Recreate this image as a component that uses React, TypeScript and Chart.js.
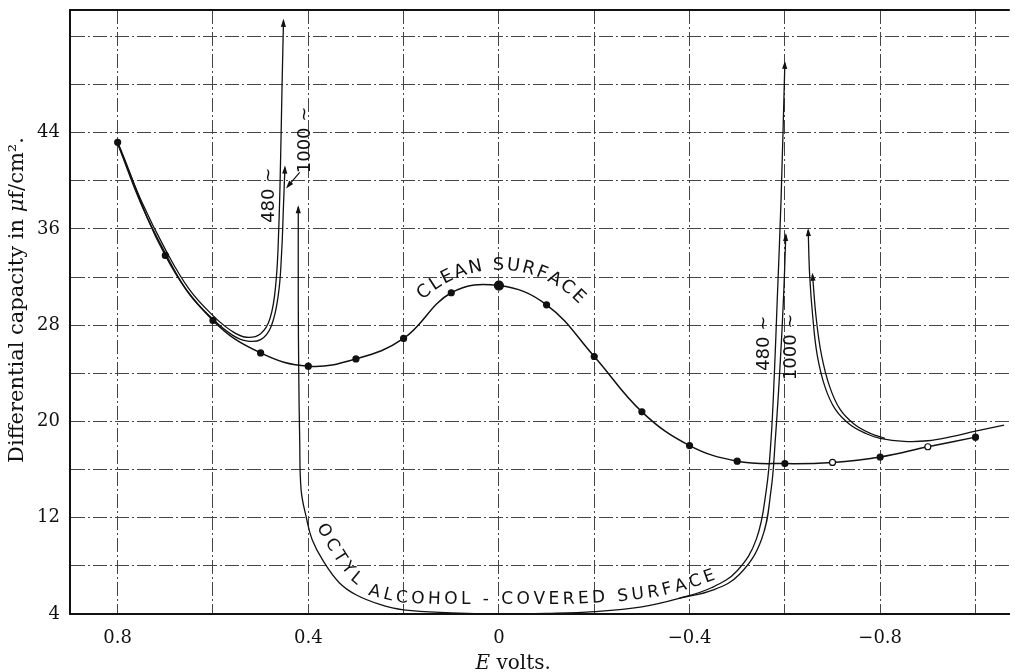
import React, { useEffect, useRef } from "react";
import { Chart, registerables } from "chart.js";

Chart.register(...registerables);

// ---------- data ----------
const X_GRID = [0.8, 0.6, 0.4, 0.2, 0, -0.2, -0.4, -0.6, -0.8, -1.0];
const X_LABELED = [0.8, 0.4, 0, -0.4, -0.8];
const Y_GRID = [4, 8, 12, 16, 20, 24, 28, 32, 36, 40, 44, 48, 52];
const Y_LABELED = [4, 12, 20, 28, 36, 44];

const CLEAN_X = [0.8, 0.7, 0.6, 0.5, 0.4, 0.3, 0.2, 0.1, 0, -0.1, -0.2, -0.3, -0.4, -0.5, -0.6, -0.7, -0.8, -0.9, -1.0];
const CLEAN_Y = [43.2, 33.8, 28.4, 25.7, 24.6, 25.2, 26.9, 30.7, 31.3, 29.7, 25.4, 20.8, 18.0, 16.7, 16.5, 16.6, 17.05, 17.9, 18.7];
const CLEAN_OPEN_X = [-0.7, -0.9];

const OCT480_LEFT_X = [0.8, 0.75, 0.7, 0.65, 0.6, 0.56, 0.53, 0.5, 0.48, 0.468, 0.462, 0.458, 0.455, 0.452];
const OCT480_LEFT_Y = [43.1, 38.3, 34.3, 31.0, 28.8, 27.5, 27.0, 27.3, 28.6, 31.5, 36, 42, 48, 53.3];
const OCT1000_LEFT_X = [0.8, 0.75, 0.7, 0.65, 0.6, 0.56, 0.53, 0.5, 0.478, 0.463, 0.456, 0.452, 0.449];
const OCT1000_LEFT_Y = [43.1, 38.0, 34.0, 30.6, 28.5, 27.2, 26.7, 26.8, 27.9, 30.5, 34, 38, 41.1];

const OCT480_MAIN_X = [0.421, 0.421, 0.42, 0.418, 0.415, 0.404, 0.392, 0.37, 0.335, 0.3, 0.25, 0.2, 0.1, 0, -0.1, -0.2, -0.3, -0.378, -0.447, -0.5, -0.54, -0.561, -0.571, -0.578, -0.584, -0.592, -0.6];
const OCT480_MAIN_Y = [37.8, 30, 24, 18.5, 14.3, 12, 10.2, 8.5, 6.6, 5.6, 4.8, 4.35, 4.1, 4.0, 4.05, 4.2, 4.6, 5.3, 6.2, 7.6, 10.2, 14.3, 18.5, 24, 30.1, 38.4, 49.8];
const OCT1000_RIGHT_X = [-0.378, -0.45, -0.505, -0.551, -0.571, -0.58, -0.589, -0.597, -0.602];
const OCT1000_RIGHT_Y = [5.3, 6.0, 7.3, 10.2, 14.3, 18.5, 24, 30.1, 35.5];

const RIGHT_A_X = [-0.649, -0.652, -0.659, -0.668, -0.684, -0.706, -0.735, -0.77, -0.8, -0.85, -0.9, -0.95, -1.0, -1.06];
const RIGHT_A_Y = [35.9, 32.2, 28.5, 25.5, 22.9, 21.0, 19.8, 19.0, 18.6, 18.35, 18.4, 18.75, 19.2, 19.7];
const RIGHT_B_X = [-0.658, -0.666, -0.677, -0.694, -0.716, -0.745, -0.78, -0.81];
const RIGHT_B_Y = [32.2, 28.5, 25.5, 22.9, 21.0, 19.8, 19.0, 18.6];

// text paths / anchors (data coordinates)
const OCTYL_TEXT = "OCTYL ALCOHOL - COVERED SURFACE";
const OCTYL_PATH_X = [0.374, 0.353, 0.328, 0.301, 0.268, 0.209, 0.104, 0.0, -0.127, -0.252, -0.336, -0.399, -0.452];
const OCTYL_PATH_Y = [11.4, 9.9, 8.32, 6.99, 5.91, 5.33, 5.16, 5.16, 5.16, 5.41, 5.83, 6.49, 7.24];
const CLEAN_TEXT = "CLEAN SURFACE";
const CLEAN_ARC_CENTER = [0, 23.45];

const FREQ_LABELS = [
  { text: "480 ~", x: 0.482, y: 38.8 },
  { text: "1000 ~", x: 0.406, y: 43.4 },
  { text: "480 ~", x: -0.556, y: 26.5 },
  { text: "1000 ~", x: -0.613, y: 26.2 },
];
const POINTER_FROM = [0.418, 40.7];
const POINTER_TO = [0.444, 39.5];

const mk = (xs: number[], ys: number[]) => xs.map((x, i) => ({ x, y: ys[i] }));

const SERIF = '"DejaVu Serif", serif';
const SANS = '"DejaVu Sans", sans-serif';

function drawHead(ctx: CanvasRenderingContext2D, from: any, to: any) {
  const a = Math.atan2(to.y - from.y, to.x - from.x);
  const len = 8, hw = 2.6;
  const tx = to.x + Math.cos(a) * 2, ty = to.y + Math.sin(a) * 2;
  const bx = tx - Math.cos(a) * len, by = ty - Math.sin(a) * len;
  ctx.beginPath();
  ctx.moveTo(tx, ty);
  ctx.lineTo(bx - Math.sin(a) * hw, by + Math.cos(a) * hw);
  ctx.lineTo(bx + Math.sin(a) * hw, by - Math.cos(a) * hw);
  ctx.closePath();
  ctx.fill();
}

function textOnPath(ctx: CanvasRenderingContext2D, text: string, pts: { x: number; y: number }[], font: string) {
  ctx.save();
  ctx.font = font;
  ctx.fillStyle = "#111";
  ctx.textAlign = "center";
  ctx.textBaseline = "middle";
  const cum = [0];
  for (let i = 1; i < pts.length; i++) {
    cum.push(cum[i - 1] + Math.hypot(pts[i].x - pts[i - 1].x, pts[i].y - pts[i - 1].y));
  }
  const L = cum[cum.length - 1];
  const chars = [...text];
  const widths = chars.map((c) => ctx.measureText(c).width);
  const total = widths.reduce((a, b) => a + b, 0);
  const extra = (L - total) / (chars.length - 1);
  let s = 0;
  chars.forEach((c, i) => {
    const mid = s + widths[i] / 2;
    s += widths[i] + extra;
    let k = 1;
    while (k < cum.length - 1 && cum[k] < mid) k++;
    const seg = cum[k] - cum[k - 1] || 1;
    const t = (mid - cum[k - 1]) / seg;
    const p0 = pts[k - 1], p1 = pts[k];
    const x = p0.x + (p1.x - p0.x) * t;
    const y = p0.y + (p1.y - p0.y) * t;
    const ang = Math.atan2(p1.y - p0.y, p1.x - p0.x);
    ctx.save();
    ctx.translate(x, y);
    ctx.rotate(ang);
    ctx.fillText(c, 0, 0);
    ctx.restore();
  });
  ctx.restore();
}

const annotationPlugin = {
  id: "annotations",
  afterDatasetsDraw(chart: any) {
    const { ctx, scales, chartArea } = chart;
    const xs = scales.x, ys = scales.y;
    const px = (v: number) => xs.getPixelForValue(v);
    const py = (v: number) => ys.getPixelForValue(v);
    ctx.save();
    ctx.fillStyle = "#111";
    ctx.strokeStyle = "#111";
    // arrowheads
    chart.data.datasets.forEach((ds: any, i: number) => {
      const pts = chart.getDatasetMeta(i).data;
      if (ds.arrowEnd) drawHead(ctx, pts[pts.length - 2], pts[pts.length - 1]);
      if (ds.arrowStart) drawHead(ctx, pts[1], pts[0]);
    });
    // pointer arrow for 1000 label
    const f = { x: px(POINTER_FROM[0]), y: py(POINTER_FROM[1]) };
    const t = { x: px(POINTER_TO[0]), y: py(POINTER_TO[1]) };
    ctx.lineWidth = 1.2;
    ctx.beginPath();
    ctx.moveTo(f.x, f.y);
    ctx.lineTo(t.x, t.y);
    ctx.stroke();
    drawHead(ctx, f, t);

    // frequency labels (rotated)
    ctx.font = `18px ${SANS}`;
    ctx.textAlign = "center";
    ctx.textBaseline = "middle";
    FREQ_LABELS.forEach((l) => {
      ctx.save();
      ctx.translate(px(l.x), py(l.y));
      ctx.rotate(-Math.PI / 2);
      ctx.fillText(l.text, 0, 0);
      ctx.restore();
    });

    // curved texts
    const octPts = OCTYL_PATH_X.map((x, i) => ({ x: px(x), y: py(OCTYL_PATH_Y[i]) }));
    textOnPath(ctx, OCTYL_TEXT, octPts, `17px ${SANS}`);

    const cx = px(CLEAN_ARC_CENTER[0]), cy = py(CLEAN_ARC_CENTER[1]);
    const r = 115;
    const arc: { x: number; y: number }[] = [];
    for (let a = -43.5; a <= 47.01; a += 1) {
      const rad = (a * Math.PI) / 180;
      arc.push({ x: cx + r * Math.sin(rad), y: cy - r * Math.cos(rad) });
    }
    textOnPath(ctx, CLEAN_TEXT, arc, `18px ${SANS}`);

    // axis titles
    ctx.fillStyle = "#111";
    ctx.textBaseline = "middle";
    ctx.textAlign = "left";
    const xt1 = "E", xt2 = " volts.";
    ctx.font = `italic 20px ${SERIF}`;
    const w1 = ctx.measureText(xt1).width;
    ctx.font = `20px ${SERIF}`;
    const w2 = ctx.measureText(xt2).width;
    const xstart = px(-0.03) - (w1 + w2) / 2;
    const ty = chartArea.bottom + 50;
    ctx.font = `italic 20px ${SERIF}`;
    ctx.fillText(xt1, xstart, ty);
    ctx.font = `20px ${SERIF}`;
    ctx.fillText(xt2, xstart + w1, ty);

    const parts = [
      { t: "Differential capacity in ", f: `21px ${SERIF}` },
      { t: "\u03bc", f: `italic 21px ${SERIF}` },
      { t: "f/cm\u00b2.", f: `21px ${SERIF}` },
    ];
    let tw = 0;
    parts.forEach((p) => { ctx.font = p.f; tw += ctx.measureText(p.t).width; });
    ctx.save();
    ctx.translate(18, (chartArea.top + chartArea.bottom) / 2 - 12);
    ctx.rotate(-Math.PI / 2);
    let xx = -tw / 2;
    parts.forEach((p) => { ctx.font = p.f; ctx.fillText(p.t, xx, 0); xx += ctx.measureText(p.t).width; });
    ctx.restore();
    ctx.restore();
  },
};

const GRID_DASH = [14, 3, 2, 3];
const GRID_COLOR = "#454545";

export default function App() {
  const ref = useRef<HTMLCanvasElement>(null);
  useEffect(() => {
    const lineDs = (xs: number[], ys: number[], extra: any = {}) => ({
      data: mk(xs, ys),
      borderColor: "#111",
      borderWidth: 1.3,
      pointRadius: 0,
      tension: 0.4,
      fill: false,
      ...extra,
    });
    const chart = new Chart(ref.current!, {
      type: "line",
      data: {
        datasets: [
          lineDs(CLEAN_X, CLEAN_Y, {
            borderWidth: 1.5,
            pointRadius: (c: any) => (c.raw && c.raw.x === 0 ? 4.5 : 3),
            pointBackgroundColor: (c: any) => (c.raw && CLEAN_OPEN_X.includes(c.raw.x) ? "#fff" : "#111"),
            pointBorderColor: "#111",
            pointBorderWidth: 1.2,
          }),
          lineDs(OCT480_LEFT_X, OCT480_LEFT_Y, { arrowEnd: true }),
          lineDs(OCT1000_LEFT_X, OCT1000_LEFT_Y, { arrowEnd: true }),
          lineDs(OCT480_MAIN_X, OCT480_MAIN_Y, { arrowEnd: true, arrowStart: true }),
          lineDs(OCT1000_RIGHT_X, OCT1000_RIGHT_Y, { arrowEnd: true }),
          lineDs(RIGHT_A_X, RIGHT_A_Y, { arrowStart: true }),
          lineDs(RIGHT_B_X, RIGHT_B_Y, { arrowStart: true }),
        ],
      },
      options: {
        animation: false,
        responsive: false,
        devicePixelRatio: 1,
        layout: { padding: { top: 10, right: 0, left: 0, bottom: 0 } },
        plugins: { legend: { display: false }, tooltip: { enabled: false } },
        scales: {
          x: {
            type: "linear",
            reverse: true,
            min: -1.072,
            max: 0.9,
            afterBuildTicks: (s: any) => { s.ticks = X_GRID.map((v) => ({ value: v })); },
            afterFit: (s: any) => { s.height = 58; s.paddingLeft = 0; s.paddingRight = 0; },
            ticks: {
              autoSkip: false,
              maxRotation: 0,
              padding: 15,
              color: "#111",
              font: { family: SERIF, size: 18, lineHeight: 1 },
              callback: (v: any) => {
                const n = Number(v);
                if (!X_LABELED.some((l) => Math.abs(l - n) < 1e-6)) return "";
                if (Math.abs(n) < 1e-6) return "0";
                return (n < 0 ? "\u2212" : "") + Math.abs(n).toFixed(1);
              },
            },
            grid: { color: GRID_COLOR, lineWidth: 1, drawTicks: false },
            border: { display: true, color: "#111", width: 2, dash: GRID_DASH },
          },
          y: {
            type: "linear",
            min: 4,
            max: 54.2,
            afterBuildTicks: (s: any) => { s.ticks = [...Y_GRID, 54.2].map((v) => ({ value: v })); },
            afterFit: (s: any) => { s.width = 70; s.paddingTop = 0; s.paddingBottom = 0; },
            ticks: {
              autoSkip: false,
              padding: 10,
              color: "#111",
              font: { family: SERIF, size: 18, lineHeight: 1 },
              callback: (v: any) => (Y_LABELED.includes(Number(v)) ? String(v) : ""),
            },
            grid: {
              color: (c: any) => (c.tick && c.tick.value > 54 ? "#111" : GRID_COLOR),
              lineWidth: (c: any) => (c.tick && c.tick.value > 54 ? 2 : 1),
              drawTicks: false,
            },
            border: {
              display: true,
              color: "#111",
              width: 2,
              dash: (c: any) => (c.tick && c.tick.value > 54 ? [] : GRID_DASH),
            },
          },
        },
      },
      plugins: [annotationPlugin],
    } as any);
    return () => chart.destroy();
  }, []);
  return (
    <div style={{ position: "fixed", left: 0, top: 0, width: 1015, height: 672, background: "#fff" }}>
      <canvas ref={ref} width={1015} height={672} style={{ display: "block" }} />
    </div>
  );
}
